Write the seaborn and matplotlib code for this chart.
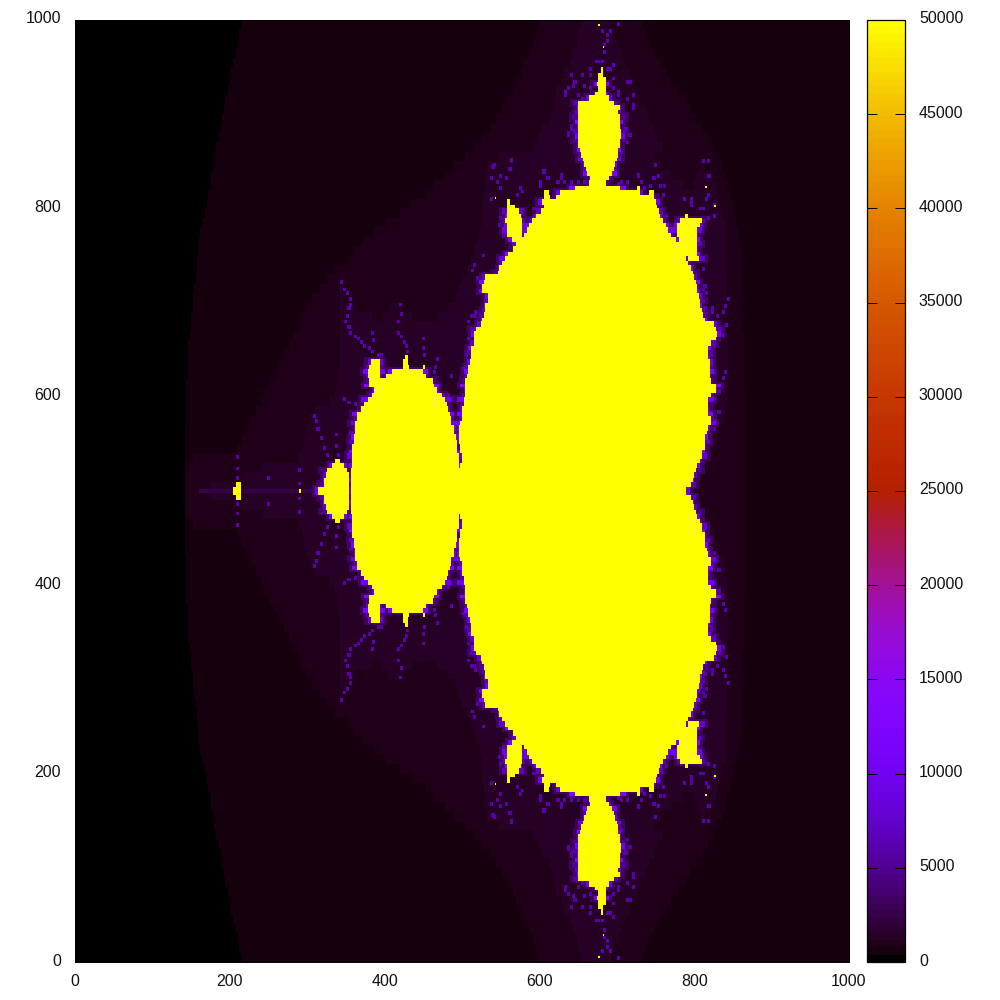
import numpy as np
import seaborn as sns
import matplotlib
matplotlib.use('Agg')
import matplotlib.pyplot as plt
from matplotlib.colors import ListedColormap
from matplotlib.transforms import ScaledTranslation

# everything below is read off the upper half of the picture (y >= 500),
# the lower half is its mirror image

x_ticks = [0, 200, 400, 600, 800, 1000]
y_ticks = [0, 200, 400, 600, 800, 1000]
cbar_ticks = [0, 5000, 10000, 15000, 20000, 25000, 30000, 35000, 40000, 45000, 50000]

band_values = [400, 800, 1200]
inside_value = 50000
wisp_value = 6000
dim_value = 3200
tail_value = 2400

# one entry per 10 units of y, starting at y=500
band1_left = [142, 142, 143, 143, 143, 143, 143, 145, 145, 145, 145, 145, 146, 146, 147, 147, 149,
              150, 151, 152, 152, 154, 156, 158, 159, 160, 161, 163, 165, 168, 171, 173, 176, 177,
              180, 181, 183, 186, 189, 191, 193, 195, 198, 200, 203, 205, 208, 211, 213, 216]
band2_left = [142, 143, 145, 152, 211, 217, 222, 229, 234, 240, 245, 252, 258, 264, 270, 276, 283,
              291, 293, 301, 307, 317, 326, 337, 355, 360, 373, 386, 403, 420, 435, 452, 465, 478,
              491, 504, 517, 526, 536, 545, 553, 559, 566, 571, 576, 581, 588, 593, 597, 599]
band2_right = [866, 866, 866, 866, 866, 866, 866, 866, 866, 866, 866, 864, 864, 864, 864, 864, 864,
               863, 863, 863, 863, 862, 862, 862, 862, 860, 859, 857, 855, 853, 850, 846, 842, 840,
               836, 831, 824, 818, 810, 802, 795, 788, 780, 771, 764, 756, 749, 743, 736, 733]
band3_spans = [
    [(177, 795)], [(217, 804)], [(242, 814)], [(288, 823)], [(295, 827)], [(297, 831)], [(301, 833)],
    [(305, 839)], [(310, 841)], [(329, 842)], [(336, 844)], [(339, 844)], [(341, 844)], [(342, 844)],
    [(342, 844)], [(342, 844)], [(342, 842)], [(342, 842)],
    [(342, 385), (397, 437), (468, 842)], [(342, 362), (407, 424), (482, 842)],
    [(342, 353), (492, 842)], [(342, 346), (497, 842)], [(500, 842)], [(508, 842)], [(513, 841)],
    [(517, 840)], [(521, 840)], [(523, 840)], [(526, 840)], [(526, 836)], [(527, 833)], [(528, 831)],
    [(530, 786), (801, 828)], [(531, 771), (805, 823)], [(532, 756), (809, 815)], [(549, 749)],
    [(593, 760)], [(598, 753)], [(605, 748)], [(614, 743)], [(618, 738)], [(620, 731)], [(623, 726)],
    [(628, 721)], [(633, 716)], [(640, 711)], [(645, 707)], [(649, 702)], [(651, 696)], [(654, 693)],
]

# one entry per 5 units of y, starting at y=500: x ranges at the 50000 level
inside_spans = [
    [(205, 214), (314, 354), (356, 791)], [(209, 214), (323, 354), (356, 796)], [(323, 354), (357, 798)],
    [(324, 354), (357, 801)],
    [(326, 353), (357, 802)], [(332, 348), (358, 497), (499, 805)], [(337, 342), (358, 497), (500, 808)],
    [(359, 496), (500, 810)], [(359, 495), (499, 811)], [(359, 495), (499, 814)], [(360, 494), (497, 814)],
    [(360, 492), (497, 815)], [(362, 491), (497, 817)], [(362, 490), (497, 818)], [(363, 487), (499, 823)],
    [(364, 486), (500, 823)], [(364, 485), (500, 818)], [(371, 482), (501, 819)], [(375, 481), (503, 819)],
    [(379, 478), (503, 819)], [(384, 474), (504, 823)], [(386, 469), (504, 828)], [(381, 465), (505, 829)],
    [(380, 463), (505, 823)], [(379, 394), (402, 455), (506, 820)], [(379, 395), (410, 451), (508, 820)],
    [(380, 395), (424, 433), (450, 452), (509, 820)], [(382, 394), (424, 431), (510, 820)],
    [(426, 430), (512, 819)], [(512, 819)], [(513, 819)], [(516, 823)], [(517, 828)], [(517, 831)],
    [(518, 829)], [(525, 826)], [(526, 814)], [(528, 813)], [(530, 810)], [(531, 809)], [(534, 808)],
    [(535, 806)], [(527, 805)], [(527, 804)], [(528, 802)], [(531, 800)], [(547, 798)], [(549, 796)],
    [(553, 793)], [(557, 791), (793, 806)], [(561, 805)], [(566, 805)], [(570, 805)],
    [(565, 776), (780, 805)], [(558, 579), (581, 770), (779, 804)], [(558, 579), (584, 766), (779, 805)],
    [(558, 579), (587, 764), (779, 808)], [(557, 579), (590, 761), (783, 810)],
    [(558, 576), (596, 757), (788, 793)], [(558, 574), (602, 755)], [(558, 568), (606, 752)],
    [(558, 562), (605, 751)], [(606, 614), (623, 749)], [(607, 612), (627, 730), (743, 748)],
    [(647, 704), (727, 730)], [(665, 687)], [(667, 691)], [(663, 694)], [(660, 697)], [(658, 699)],
    [(656, 700)], [(654, 702)], [(652, 703)], [(651, 704)], [(650, 705)], [(650, 707)], [(650, 707)],
    [(650, 705)], [(650, 705)], [(650, 704)], [(651, 703)], [(650, 704)], [(650, 696)], [(664, 691)],
    [(672, 687)], [(676, 686)], [(674, 686)], [(676, 686)], [(677, 683)], [(680, 682)],
]

# how far the purple rim sticks out from the yellow edge, in cells, and its level, row by row
rim_widths = [2, 3, 1, 2, 4, 2, 1, 3, 2, 1, 3, 2, 2, 1, 3]
rim_levels = [9000, 6000, 12000, 7000, 5000, 10000, 6000, 8000, 13000, 5000, 7000, 11000, 6000, 9000]

wisp_x = [681, 682, 682, 686, 687, 691, 700, 681, 674, 687, 695, 665, 656, 640, 633, 643, 665, 700, 713,
          720, 721, 708, 717, 640, 636, 646, 655, 695, 540, 562, 549, 536, 575, 605, 601, 610, 627, 640,
          656, 704, 713, 726, 730, 749, 752, 760, 743, 817, 817, 795, 811, 824, 514, 519, 506, 514, 506,
          501, 504, 481, 842, 837, 833, 837, 829, 826, 823, 811,
          810, 811, 818, 814, 824, 786, 795, 527, 549, 592, 209, 209, 209, 249, 288, 288,
          342, 347, 351, 355, 355, 353, 351, 349, 353, 355, 360, 364, 368, 373, 379, 383, 390, 394, 383, 385,
          418, 420, 417, 416, 420, 424, 427, 429, 448, 449, 450, 467, 465, 463, 485,
          308, 310, 312, 317, 321, 325, 336, 337, 338, 347, 353, 360, 364, 355, 360, 373,
          515, 519, 513, 506, 510, 517, 506, 504, 502, 504, 485,
          562, 560, 556, 545, 538, 549, 571, 577, 536, 549, 547, 553, 590, 592, 605, 609, 601, 622, 627, 631,
          640, 648, 700, 713, 726, 734, 749, 747, 754, 758, 762, 769, 782, 786, 795, 807, 816, 816, 816,
          648, 644, 633, 637, 672, 691, 695, 700, 717, 713, 721, 711, 715, 640, 637, 646, 704, 713, 655, 665,
          812, 810, 814, 808, 812, 823, 829, 842, 838, 840, 836, 825, 820, 825, 836, 838, 831, 825, 820, 831,
          825, 816, 812, 805]
wisp_y = [955, 965, 973, 977, 982, 987, 995, 986, 954, 947, 950, 940, 929, 940, 923, 929, 926, 918, 933,
          918, 904, 883, 876, 883, 876, 891, 915, 926, 844, 848, 833, 830, 820, 838, 827, 830, 830, 827,
          827, 827, 827, 833, 827, 844, 833, 823, 823, 848, 833, 809, 798, 802, 738, 724, 678, 685, 647,
          628, 610, 600, 703, 689, 671, 618, 604, 572, 692, 713,
          735, 848, 833, 809, 791, 809, 802, 748, 788, 798, 512, 522, 535, 512, 506, 520,
          721, 713, 708, 703, 697, 692, 685, 678, 673, 667, 663, 660, 657, 653, 650, 646, 643, 643, 667, 659,
          696, 687, 678, 667, 662, 657, 652, 646, 660, 651, 643, 639, 630, 625, 621,
          579, 572, 565, 554, 544, 536, 558, 547, 536, 597, 593, 590, 583, 561, 554, 625,
          738, 724, 733, 678, 685, 689, 660, 643, 628, 611, 597,
          851, 841, 830, 827, 842, 820, 812, 816, 809, 788, 781, 770, 798, 791, 837, 830, 823, 827, 834, 827,
          823, 827, 825, 827, 834, 820, 844, 830, 823, 812, 791, 777, 788, 809, 805, 798, 812, 848, 788,
          919, 933, 919, 926, 954, 947, 936, 922, 933, 915, 908, 883, 876, 887, 878, 873, 858, 869, 940, 947,
          717, 735, 708, 701, 692, 689, 685, 703, 694, 675, 664, 653, 643, 625, 618, 625, 604, 597, 583, 583,
          565, 551, 537, 526]

# the thin bright line along y=500, left of the big bulb
tail_spans = [(160, 205), (214, 314)]

# single yellow pixels away from the body
speck_x = [291, 682, 676, 815, 827, 543]
speck_y = [501, 971, 995, 822, 803, 811]

cell = 2
n = 1000 // cell
grid = np.zeros((n, n))

for j in range(50):
    i0 = (500 + j * 10) // cell
    i1 = i0 + 10 // cell
    grid[i0:i1, band1_left[j] // cell:] = band_values[0]
    grid[i0:i1, band2_left[j] // cell:band2_right[j] // cell] = band_values[1]
    for x0, x1 in band3_spans[j]:
        grid[i0:i1, x0 // cell:x1 // cell] = band_values[2]

for x0, x1 in tail_spans:
    grid[n // 2:n // 2 + 1, x0 // cell:x1 // cell] = tail_value

for x, y in zip(wisp_x, wisp_y):
    grid[y // cell:y // cell + 2, x // cell:x // cell + 2] = wisp_value

# purple rim first, yellow goes on top of it. very small bits have no rim
for k, spans in enumerate(inside_spans):
    i0 = (1000 + k * 10) // (2 * cell)
    i1 = (1000 + (k + 1) * 10) // (2 * cell)
    w = rim_widths[k % len(rim_widths)]
    level = rim_levels[k % len(rim_levels)]
    for x0, x1 in spans:
        if x1 - x0 < 12:
            continue
        a, b = x0 // cell, x1 // cell
        lo = max(i0 - 1, n // 2)
        grid[lo:i1 + 1, a - w - 2:b + w + 2] = np.maximum(grid[lo:i1 + 1, a - w - 2:b + w + 2], dim_value)
    for x0, x1 in spans:
        if x1 - x0 < 12:
            continue
        a, b = x0 // cell, x1 // cell
        grid[i0:i1, a - w:b + w] = level

for k, spans in enumerate(inside_spans):
    i0 = (1000 + k * 10) // (2 * cell)
    i1 = (1000 + (k + 1) * 10) // (2 * cell)
    for x0, x1 in spans:
        grid[i0:i1, x0 // cell:x1 // cell] = inside_value

for x, y in zip(speck_x, speck_y):
    grid[y // cell, x // cell] = inside_value

grid[:n // 2] = grid[n // 2:][::-1]

# gnuplot default palette with 128 steps
t = np.linspace(0, 1, 128)
colors = np.column_stack([np.sqrt(t), t ** 3, np.clip(np.sin(2 * np.pi * t), 0, 1)])
palette = ListedColormap(colors)

sns.set_theme(style='white')
plt.rcParams['font.family'] = ['Liberation Sans', 'DejaVu Sans']
plt.rcParams['font.size'] = 11.5

fig = plt.figure(figsize=(10, 10), dpi=100)
ax = fig.add_axes([0.075, 0.038, 0.774, 0.942])
cax = fig.add_axes([0.867, 0.038, 0.038, 0.942])

sns.heatmap(grid, ax=ax, cbar_ax=cax, cmap=palette, vmin=0, vmax=50000, xticklabels=False, yticklabels=False)
ax.invert_yaxis()

ax.set_xticks([v / cell for v in x_ticks])
ax.set_xticklabels([str(v) for v in x_ticks], rotation=0, fontsize=11.5, color='#111111')
ax.set_yticks([v / cell for v in y_ticks])
ax.set_yticklabels([str(v) for v in y_ticks], rotation=0, fontsize=11.5, color='#111111')
ax.tick_params(axis='x', length=0, pad=8.5)
ax.tick_params(axis='y', length=0, pad=10)
for spine in ax.spines.values():
    spine.set_visible(True)
    spine.set_color('black')
    spine.set_linewidth(0.72)

# gnuplot puts its labels slightly above the tick
shift = ScaledTranslation(0, 1.8 / 72, fig.dpi_scale_trans)
for label in ax.get_yticklabels():
    label.set_transform(label.get_transform() + shift)

cbar = ax.collections[0].colorbar
cbar.outline.set_linewidth(0.9)
cbar.outline.set_edgecolor('black')
cbar.set_ticks(cbar_ticks)
cbar.set_ticklabels([str(v) for v in cbar_ticks])
cax.set_axisbelow(False)
cax.tick_params(axis='y', which='both', direction='in', left=True, right=True, length=7.2, width=0.72,
                color='black', pad=10, labelsize=11.5, labelcolor='#111111')
for label in cax.get_yticklabels():
    label.set_transform(label.get_transform() + shift)

fig.savefig('out.png', dpi=100)
